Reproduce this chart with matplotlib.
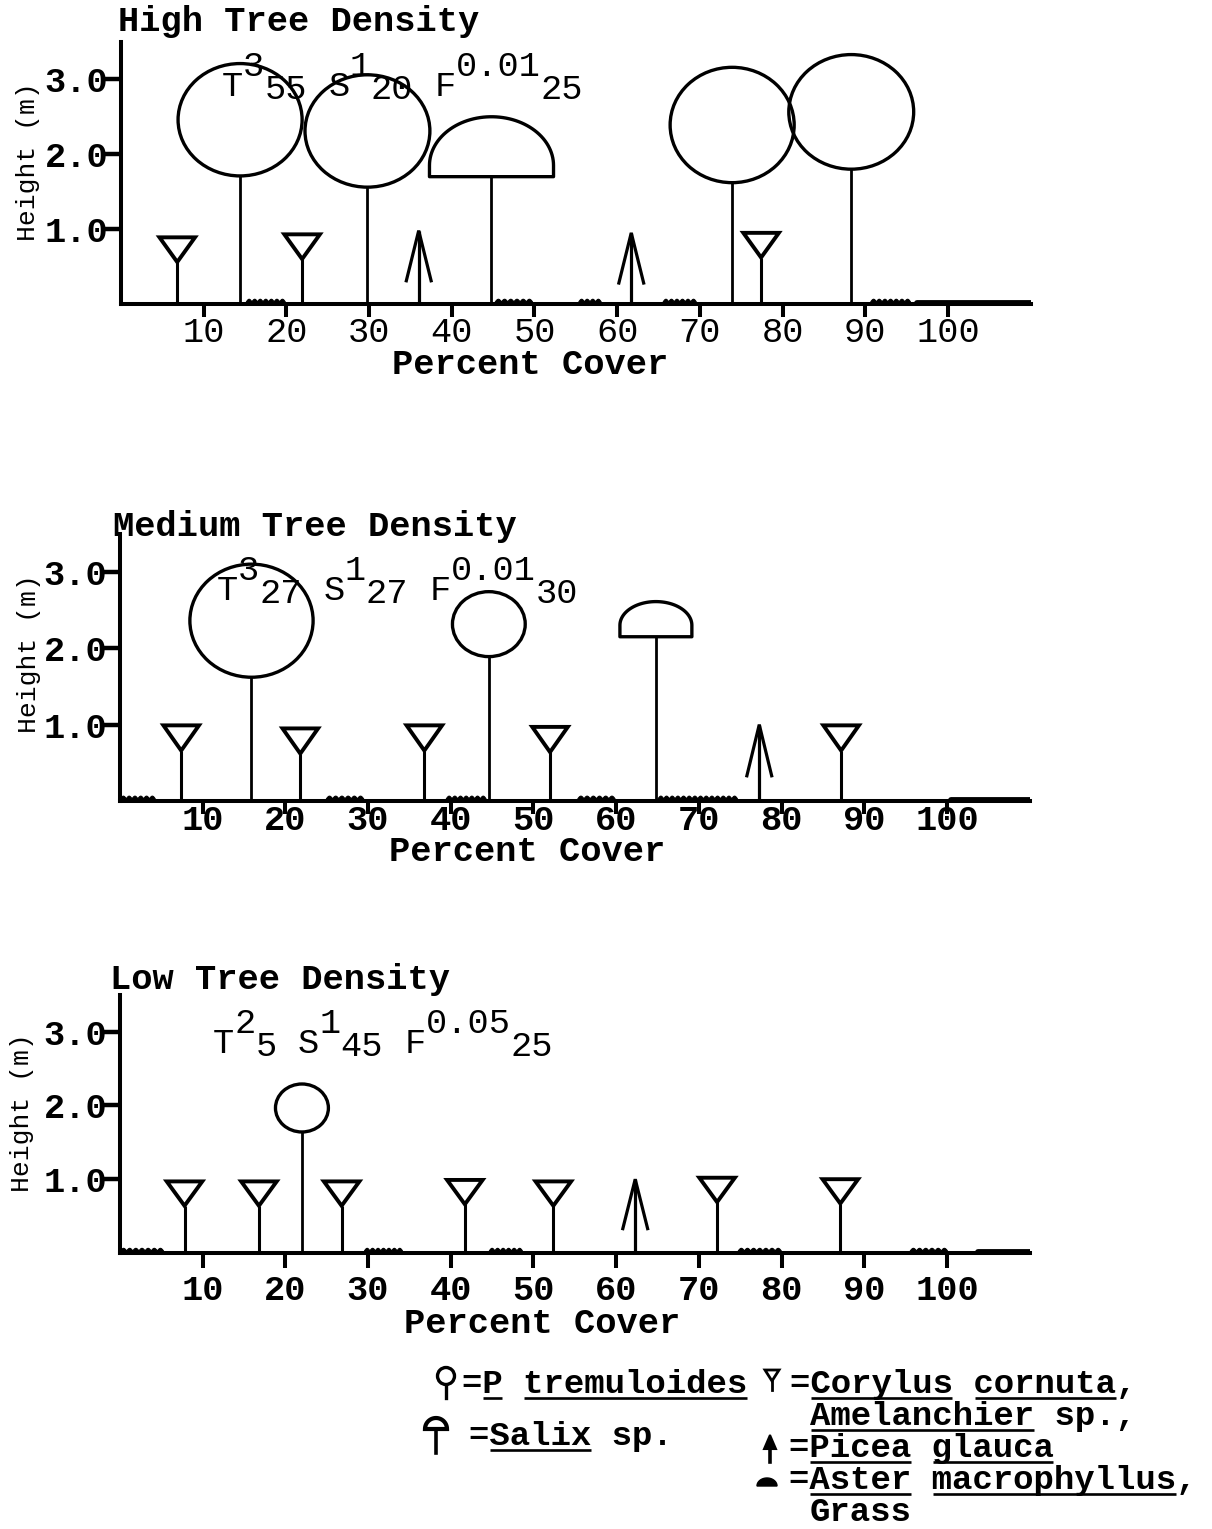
import numpy as np
import matplotlib
matplotlib.use("Agg")
import matplotlib.pyplot as plt
from matplotlib.patches import Ellipse, Polygon

plt.rcParams['font.family'] = ['Liberation Mono', 'DejaVu Sans']

# ---------------------------------------------------------------- data
pct_ticks = [10, 20, 30, 40, 50, 60, 70, 80, 90, 100]
pct_labels = [str(v) for v in pct_ticks]
height_ticks = [1.0, 2.0, 3.0]
height_labels = ['1.0', '2.0', '3.0']

panel_titles = ['High Tree Density', 'Medium Tree Density', 'Low Tree Density']

# stratum summaries: (layer, height class, percent cover)
high_layers = [('T', '3', '55'), ('S', '1', '20'), ('F', '0.01', '25')]
medium_layers = [('T', '3', '27'), ('S', '1', '27'), ('F', '0.01', '30')]
low_layers = [('T', '2', '5'), ('S', '1', '45'), ('F', '0.05', '25')]

# Populus tremuloides: stem position (%), crown base (m), crown width (%), crown depth (m)
high_aspen_x = [14.4, 29.8, 73.9, 88.3]
high_aspen_base = [1.71, 1.56, 1.62, 1.80]
high_aspen_w = [15.0, 15.1, 15.0, 15.1]
high_aspen_h = [1.50, 1.50, 1.54, 1.53]
medium_aspen_x = [15.9, 44.6]
medium_aspen_base = [1.62, 1.89]
medium_aspen_w = [14.9, 8.8]
medium_aspen_h = [1.48, 0.85]
low_aspen_x = [22.0]
low_aspen_base = [1.64]
low_aspen_w = [6.4]
low_aspen_h = [0.65]

# Salix sp.
high_salix_x = [44.8]
high_salix_base = [1.70]
high_salix_w = [15.0]
high_salix_h = [0.80]
medium_salix_x = [64.8]
medium_salix_base = [2.15]
medium_salix_w = [8.7]
medium_salix_h = [0.46]
low_salix_x, low_salix_base, low_salix_w, low_salix_h = [], [], [], []

# Corylus cornuta / Amelanchier sp.: position (%), top height (m)
high_corylus_x = [6.8, 21.9, 77.4]
high_corylus_top = [0.89, 0.93, 0.95]
medium_corylus_x = [7.4, 21.8, 36.8, 52.0, 87.2]
medium_corylus_top = [0.99, 0.95, 0.99, 0.97, 0.99]
low_corylus_x = [7.8, 16.8, 26.8, 41.7, 52.4, 72.2, 87.1]
low_corylus_top = [0.97, 0.97, 0.97, 0.99, 0.97, 1.02, 1.00]

# Picea glauca
high_picea_x = [36.0, 61.7]
high_picea_top = [0.98, 0.95]
medium_picea_x = [77.3]
medium_picea_top = [1.00]
low_picea_x = [62.3]
low_picea_top = [1.00]

# Aster macrophyllus / grass patches (start %, end %)
high_aster = [(15.1, 19.8), (45.2, 49.7), (55.3, 58.0), (65.5, 69.5), (90.6, 95.4)]
medium_aster = [(0.0, 4.2), (24.9, 29.4), (39.4, 44.2), (55.3, 59.8), (65.0, 74.6)]
low_aster = [(0.0, 5.2), (29.5, 34.1), (44.6, 48.6), (74.7, 79.9), (95.5, 100.0)]
high_grass = [(96.3, 110.0)]
medium_grass = [(100.5, 110.0)]
low_grass = [(103.8, 110.0)]

# ---------------------------------------------------------------- layout
W, H = 1212, 1529
PX_PCT = 8.27
XMAX, YMAX = 110.0, 3.5
FS = 25.5
ADV = FS / 72 * 100 * 0.6001   # monospace advance in pixels
FS_KEY = 24.5
ADV_KEY = FS_KEY / 72 * 100 * 0.6001

fig = plt.figure(figsize=(W / 100, H / 100), dpi=100)
fig.patch.set_facecolor('white')

over = fig.add_axes([0, 0, 1, 1], zorder=0)
over.set_xlim(0, W)
over.set_ylim(H, 0)
over.axis('off')
over.patch.set_alpha(0)

panels = [
    dict(left=121, zero=304, pxm=74.9, title_xy=(118, 31), note_xy=(222, 96),
         tick_w='normal', tick_pad=-0.8, tick_len=9.4,
         xlab=(0.4496, -0.23), ylab=(-0.102, 0.543),
         layers=high_layers,
         aspen=(high_aspen_x, high_aspen_base, high_aspen_w, high_aspen_h),
         salix=(high_salix_x, high_salix_base, high_salix_w, high_salix_h),
         corylus=(high_corylus_x, high_corylus_top),
         picea=(high_picea_x, high_picea_top),
         aster=high_aster, grass=high_grass),
    dict(left=120, zero=801, pxm=76.4, title_xy=(113, 536), note_xy=(217, 600),
         tick_w='bold', tick_pad=-7.0, tick_len=9.0,
         xlab=(0.447, -0.19), ylab=(-0.100, 0.553),
         layers=medium_layers,
         aspen=(medium_aspen_x, medium_aspen_base, medium_aspen_w, medium_aspen_h),
         salix=(medium_salix_x, medium_salix_base, medium_salix_w, medium_salix_h),
         corylus=(medium_corylus_x, medium_corylus_top),
         picea=(medium_picea_x, medium_picea_top),
         aster=medium_aster, grass=medium_grass),
    dict(left=120, zero=1253, pxm=73.8, title_xy=(110, 989), note_xy=(213, 1053),
         tick_w='bold', tick_pad=4.0, tick_len=10.8,
         xlab=(0.464, -0.272), ylab=(-0.108, 0.542),
         layers=low_layers,
         aspen=(low_aspen_x, low_aspen_base, low_aspen_w, low_aspen_h),
         salix=(low_salix_x, low_salix_base, low_salix_w, low_salix_h),
         corylus=(low_corylus_x, low_corylus_top),
         picea=(low_picea_x, low_picea_top),
         aster=low_aster, grass=low_grass),
]

K = 'black'


def draw_aspen(ax, x, base, w, h):
    ax.plot([x, x], [0, base], color=K, lw=2.0, solid_capstyle='butt', zorder=3)
    ax.add_patch(Ellipse((x, base + h / 2), w, h, fill=False, ec=K, lw=2.4, zorder=3))


def draw_salix(ax, x, base, w, h):
    ax.plot([x, x], [0, base], color=K, lw=2.0, solid_capstyle='butt', zorder=3)
    side = 0.15
    t = np.linspace(np.pi, 0, 60)
    xs = x + w / 2 * np.cos(t)
    ys = base + side + (h - side) * np.sin(t)
    pts = [(x - w / 2, base)] + list(zip(xs, ys)) + [(x + w / 2, base)]
    ax.add_patch(Polygon(pts, closed=True, fill=False, ec=K, lw=2.4, zorder=3,
                         joinstyle='round'))


def draw_corylus(ax, x, top):
    tw, th = 4.3, 0.33
    ax.plot([x, x], [0, top - th], color=K, lw=2.2, solid_capstyle='butt', zorder=3)
    ax.add_patch(Polygon([(x - tw / 2, top), (x + tw / 2, top), (x, top - th)],
                         closed=True, fill=False, ec=K, lw=2.8, zorder=3,
                         joinstyle='miter'))


def draw_picea(ax, x, top):
    ax.plot([x, x], [0, top], color=K, lw=2.3, solid_capstyle='butt', zorder=3)
    ax.plot([x - 1.5, x, x + 1.5], [top - 0.67, top, top - 0.67], color=K, lw=2.3,
            solid_joinstyle='miter', zorder=3)


def draw_aster(ax, a, b):
    # low, dense leafy band sitting on the ground line
    n = max(3, int(round((b - a) / 0.7)))
    xs = np.linspace(a, b, 14 * n)
    ys = 0.035 + 0.035 * np.abs(np.sin(np.pi * n * (xs - a) / (b - a)))
    ax.fill_between(xs, 0, ys, color=K, lw=0.8, zorder=2)


def draw_grass(ax, a, b):
    ax.plot([a, b], [0.01, 0.01], color=K, lw=4.2, solid_capstyle='round', zorder=2)


for idx, p in enumerate(panels):
    ax = fig.add_axes([p['left'] / W, (H - p['zero']) / H,
                       XMAX * PX_PCT / W, YMAX * p['pxm'] / H], zorder=2)
    ax.patch.set_alpha(0)
    ax.set_xlim(0, XMAX)
    ax.set_ylim(0, YMAX)
    for s in ('top', 'right'):
        ax.spines[s].set_visible(False)
    for s in ('left', 'bottom'):
        ax.spines[s].set_linewidth(2.9)
        ax.spines[s].set_color(K)

    ax.set_xticks(pct_ticks, pct_labels)
    ax.set_yticks(height_ticks, height_labels)
    ax.tick_params(axis='x', direction='out', length=p['tick_len'], width=2.9,
                   pad=p['tick_pad'], labelsize=FS)
    ax.tick_params(axis='y', direction='out', length=14, width=3.2,
                   pad=-5, labelsize=FS)
    for lab in ax.get_xticklabels():
        lab.set_fontweight(p['tick_w'])
    for lab in ax.get_yticklabels():
        lab.set_fontweight('bold')

    ax.set_xlabel('Percent Cover', fontsize=FS, fontweight='bold', va='center')
    ax.xaxis.set_label_coords(*p['xlab'])
    ax.set_ylabel('Height (m)', fontsize=19, va='center')
    ax.yaxis.set_label_coords(*p['ylab'])

    for a, b in p['aster']:
        draw_aster(ax, a, b)
    for a, b in p['grass']:
        draw_grass(ax, a, b)
    for x, base, w, h in zip(*p['aspen']):
        draw_aspen(ax, x, base, w, h)
    for x, base, w, h in zip(*p['salix']):
        draw_salix(ax, x, base, w, h)
    for x, top in zip(*p['corylus']):
        draw_corylus(ax, x, top)
    for x, top in zip(*p['picea']):
        draw_picea(ax, x, top)

    # panel title
    tx, ty = p['title_xy']
    over.text(tx, ty, panel_titles[idx], fontsize=FS, fontweight='bold',
              ha='left', va='baseline')

    # typed stratum summary with raised height class and lowered cover
    nx, ny = p['note_xy']
    i = 0
    for letter, sup, cov in p['layers']:
        over.text(nx + i * ADV, ny, letter, fontsize=FS, ha='left', va='baseline')
        i += 1
        over.text(nx + i * ADV, ny - 20, sup, fontsize=FS, ha='left', va='baseline')
        i += len(sup)
        over.text(nx + i * ADV, ny + 3, cov, fontsize=FS, ha='left', va='baseline')
        i += len(cov) + 1


# ---------------------------------------------------------------- key
def typed(x0, base, s, under=(), weight='bold'):
    over.text(x0, base, s, fontsize=FS_KEY, fontweight=weight, ha='left', va='baseline')
    for i0, i1 in under:
        over.plot([x0 + i0 * ADV_KEY + 1, x0 + (i1 + 1) * ADV_KEY - 1],
                  [base + 5, base + 5], color=K, lw=1.9, solid_capstyle='butt')


typed(462, 1393, '=P tremuloides', [(1, 1), (3, 13)])
typed(790, 1393, '=Corylus cornuta,', [(1, 7), (9, 15)])
typed(810, 1425, 'Amelanchier sp.,', [(0, 10)])
typed(469, 1445, '=Salix sp.', [(1, 5)])
typed(789, 1457, '=Picea glauca', [(1, 5), (7, 12)])
typed(789, 1489, '=Aster macrophyllus,', [(1, 5), (7, 18)])
typed(810, 1521, 'Grass')

# key glyphs
over.add_patch(Ellipse((446, 1376), 17, 17, fill=False, ec=K, lw=2.4))
over.plot([446, 446], [1384.5, 1398], color=K, lw=2.4)

t = np.linspace(np.pi, 0, 40)
dome = [(425, 1429)] + list(zip(436 + 11 * np.cos(t), 1429 - 11 * np.sin(t))) + [(447, 1429)]
over.add_patch(Polygon(dome, closed=True, fill=False, ec=K, lw=3.0))
over.plot([436, 436], [1429, 1453], color=K, lw=2.6)

over.add_patch(Polygon([(765, 1370), (779, 1370), (772, 1381)], closed=True,
                       fill=False, ec=K, lw=2.0))
over.plot([772, 772], [1381, 1390], color=K, lw=2.0)

over.add_patch(Polygon([(764, 1449), (776, 1449), (770, 1435)], closed=True,
                       fc=K, ec=K, lw=1.5))
over.plot([770, 770], [1446, 1462], color=K, lw=2.6)

blob = [(757, 1486)] + list(zip(767 + 10 * np.cos(t), 1486 - 8 * np.sin(t))) + [(777, 1486)]
over.add_patch(Polygon(blob, closed=True, fc=K, ec=K, lw=1.0))

fig.savefig('out.png', dpi=100, facecolor='white')
